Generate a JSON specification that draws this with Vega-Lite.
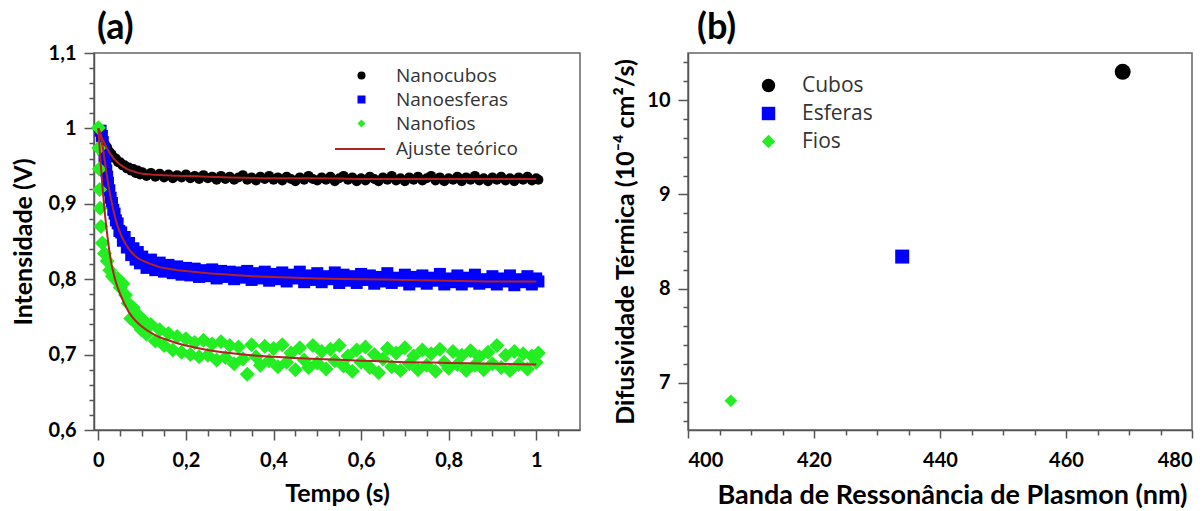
{
  "$schema": "https://vega.github.io/schema/vega-lite/v6.json",
  "background": "white",
  "padding": {"left": 10, "top": 9, "right": 5, "bottom": 0},
  "spacing": 32,
  "config": {
    "view": {"stroke": "#666", "strokeWidth": 1.5},
    "axis": {"labelFont": "Lato", "labelFontWeight": "bold", "labelFontSize": 20, "labelColor": "#000", "titleFont": "Lato", "titleFontWeight": "bold", "titleFontSize": 25, "titleColor": "#000", "domainColor": "#555", "domainWidth": 1.5, "tickColor": "#555", "tickWidth": 1.5, "grid": false},
    "title": {"font": "Lato", "fontWeight": "bold", "fontSize": 36, "color": "#000", "anchor": "start", "frame": "group"}
  },
  "resolve": {"scale": {"color": "independent", "shape": "independent", "stroke": "independent"}},
  "datasets": {
    "pa": [
      {"s":"Nanocubos","t":0,"v":0.999},{"s":"Nanocubos","t":0.005,"v":0.992},{"s":"Nanocubos","t":0.01,"v":0.986},{"s":"Nanocubos","t":0.015,"v":0.979},{"s":"Nanocubos","t":0.02,"v":0.975},{"s":"Nanocubos","t":0.025,"v":0.969},{"s":"Nanocubos","t":0.03,"v":0.966},{"s":"Nanocubos","t":0.035,"v":0.961},{"s":"Nanocubos","t":0.04,"v":0.96},{"s":"Nanocubos","t":0.045,"v":0.955},{"s":"Nanocubos","t":0.05,"v":0.955},{"s":"Nanocubos","t":0.055,"v":0.951},{"s":"Nanocubos","t":0.06,"v":0.951},{"s":"Nanocubos","t":0.065,"v":0.947},{"s":"Nanocubos","t":0.07,"v":0.948},{"s":"Nanocubos","t":0.075,"v":0.944},{"s":"Nanocubos","t":0.08,"v":0.946},{"s":"Nanocubos","t":0.085,"v":0.941},{"s":"Nanocubos","t":0.09,"v":0.944},{"s":"Nanocubos","t":0.095,"v":0.939},{"s":"Nanocubos","t":0.1,"v":0.942},
      {"s":"Nanocubos","t":0.11,"v":0.937},{"s":"Nanocubos","t":0.12,"v":0.941},{"s":"Nanocubos","t":0.13,"v":0.936},{"s":"Nanocubos","t":0.14,"v":0.94},{"s":"Nanocubos","t":0.15,"v":0.935},{"s":"Nanocubos","t":0.16,"v":0.939},{"s":"Nanocubos","t":0.17,"v":0.934},{"s":"Nanocubos","t":0.18,"v":0.938},{"s":"Nanocubos","t":0.19,"v":0.935},{"s":"Nanocubos","t":0.2,"v":0.939},
      {"s":"Nanocubos","t":0.21,"v":0.934},{"s":"Nanocubos","t":0.22,"v":0.937},{"s":"Nanocubos","t":0.23,"v":0.933},{"s":"Nanocubos","t":0.24,"v":0.938},{"s":"Nanocubos","t":0.25,"v":0.934},{"s":"Nanocubos","t":0.26,"v":0.936},{"s":"Nanocubos","t":0.27,"v":0.932},{"s":"Nanocubos","t":0.28,"v":0.937},{"s":"Nanocubos","t":0.29,"v":0.933},{"s":"Nanocubos","t":0.3,"v":0.936},
      {"s":"Nanocubos","t":0.31,"v":0.932},{"s":"Nanocubos","t":0.32,"v":0.935},{"s":"Nanocubos","t":0.33,"v":0.938},{"s":"Nanocubos","t":0.34,"v":0.932},{"s":"Nanocubos","t":0.35,"v":0.935},{"s":"Nanocubos","t":0.36,"v":0.931},{"s":"Nanocubos","t":0.37,"v":0.936},{"s":"Nanocubos","t":0.38,"v":0.933},{"s":"Nanocubos","t":0.39,"v":0.937},{"s":"Nanocubos","t":0.4,"v":0.932},
      {"s":"Nanocubos","t":0.41,"v":0.935},{"s":"Nanocubos","t":0.42,"v":0.931},{"s":"Nanocubos","t":0.43,"v":0.936},{"s":"Nanocubos","t":0.44,"v":0.933},{"s":"Nanocubos","t":0.45,"v":0.93},{"s":"Nanocubos","t":0.46,"v":0.935},{"s":"Nanocubos","t":0.47,"v":0.932},{"s":"Nanocubos","t":0.48,"v":0.937},{"s":"Nanocubos","t":0.49,"v":0.933},{"s":"Nanocubos","t":0.5,"v":0.931},
      {"s":"Nanocubos","t":0.51,"v":0.935},{"s":"Nanocubos","t":0.52,"v":0.932},{"s":"Nanocubos","t":0.53,"v":0.936},{"s":"Nanocubos","t":0.54,"v":0.93},{"s":"Nanocubos","t":0.55,"v":0.934},{"s":"Nanocubos","t":0.56,"v":0.937},{"s":"Nanocubos","t":0.57,"v":0.932},{"s":"Nanocubos","t":0.58,"v":0.935},{"s":"Nanocubos","t":0.59,"v":0.93},{"s":"Nanocubos","t":0.6,"v":0.934},
      {"s":"Nanocubos","t":0.61,"v":0.931},{"s":"Nanocubos","t":0.62,"v":0.936},{"s":"Nanocubos","t":0.63,"v":0.933},{"s":"Nanocubos","t":0.64,"v":0.93},{"s":"Nanocubos","t":0.65,"v":0.935},{"s":"Nanocubos","t":0.66,"v":0.932},{"s":"Nanocubos","t":0.67,"v":0.937},{"s":"Nanocubos","t":0.68,"v":0.931},{"s":"Nanocubos","t":0.69,"v":0.934},{"s":"Nanocubos","t":0.7,"v":0.93},
      {"s":"Nanocubos","t":0.71,"v":0.935},{"s":"Nanocubos","t":0.72,"v":0.932},{"s":"Nanocubos","t":0.73,"v":0.936},{"s":"Nanocubos","t":0.74,"v":0.931},{"s":"Nanocubos","t":0.75,"v":0.934},{"s":"Nanocubos","t":0.76,"v":0.937},{"s":"Nanocubos","t":0.77,"v":0.931},{"s":"Nanocubos","t":0.78,"v":0.935},{"s":"Nanocubos","t":0.79,"v":0.93},{"s":"Nanocubos","t":0.8,"v":0.934},
      {"s":"Nanocubos","t":0.81,"v":0.932},{"s":"Nanocubos","t":0.82,"v":0.936},{"s":"Nanocubos","t":0.83,"v":0.93},{"s":"Nanocubos","t":0.84,"v":0.935},{"s":"Nanocubos","t":0.85,"v":0.932},{"s":"Nanocubos","t":0.86,"v":0.937},{"s":"Nanocubos","t":0.87,"v":0.931},{"s":"Nanocubos","t":0.88,"v":0.934},{"s":"Nanocubos","t":0.89,"v":0.93},{"s":"Nanocubos","t":0.9,"v":0.935},
      {"s":"Nanocubos","t":0.91,"v":0.932},{"s":"Nanocubos","t":0.92,"v":0.936},{"s":"Nanocubos","t":0.93,"v":0.931},{"s":"Nanocubos","t":0.94,"v":0.934},{"s":"Nanocubos","t":0.95,"v":0.93},{"s":"Nanocubos","t":0.96,"v":0.935},{"s":"Nanocubos","t":0.97,"v":0.932},{"s":"Nanocubos","t":0.98,"v":0.936},{"s":"Nanocubos","t":0.99,"v":0.931},{"s":"Nanocubos","t":1.0,"v":0.934},{"s":"Nanocubos","t":1.005,"v":0.932},

      {"s":"Nanoesferas","t":0.005,"v":0.997},{"s":"Nanoesferas","t":0.008,"v":0.99},{"s":"Nanoesferas","t":0.01,"v":0.982},{"s":"Nanoesferas","t":0.012,"v":0.972},{"s":"Nanoesferas","t":0.014,"v":0.963},{"s":"Nanoesferas","t":0.016,"v":0.953},{"s":"Nanoesferas","t":0.018,"v":0.944},{"s":"Nanoesferas","t":0.02,"v":0.936},{"s":"Nanoesferas","t":0.022,"v":0.928},{"s":"Nanoesferas","t":0.025,"v":0.918},{"s":"Nanoesferas","t":0.028,"v":0.908},{"s":"Nanoesferas","t":0.031,"v":0.901},{"s":"Nanoesferas","t":0.034,"v":0.892},{"s":"Nanoesferas","t":0.037,"v":0.887},{"s":"Nanoesferas","t":0.04,"v":0.878},{"s":"Nanoesferas","t":0.044,"v":0.874},{"s":"Nanoesferas","t":0.048,"v":0.864},{"s":"Nanoesferas","t":0.052,"v":0.862},{"s":"Nanoesferas","t":0.056,"v":0.851},{"s":"Nanoesferas","t":0.06,"v":0.856},{"s":"Nanoesferas","t":0.065,"v":0.842},{"s":"Nanoesferas","t":0.07,"v":0.848},{"s":"Nanoesferas","t":0.075,"v":0.832},{"s":"Nanoesferas","t":0.08,"v":0.841},{"s":"Nanoesferas","t":0.085,"v":0.826},{"s":"Nanoesferas","t":0.09,"v":0.836},{"s":"Nanoesferas","t":0.095,"v":0.821},
      {"s":"Nanoesferas","t":0.1,"v":0.83},{"s":"Nanoesferas","t":0.11,"v":0.815},{"s":"Nanoesferas","t":0.12,"v":0.826},{"s":"Nanoesferas","t":0.13,"v":0.812},{"s":"Nanoesferas","t":0.14,"v":0.822},{"s":"Nanoesferas","t":0.15,"v":0.81},{"s":"Nanoesferas","t":0.16,"v":0.819},{"s":"Nanoesferas","t":0.17,"v":0.808},{"s":"Nanoesferas","t":0.18,"v":0.817},{"s":"Nanoesferas","t":0.19,"v":0.806},{"s":"Nanoesferas","t":0.2,"v":0.815},
      {"s":"Nanoesferas","t":0.21,"v":0.805},{"s":"Nanoesferas","t":0.22,"v":0.814},{"s":"Nanoesferas","t":0.23,"v":0.803},{"s":"Nanoesferas","t":0.24,"v":0.812},{"s":"Nanoesferas","t":0.25,"v":0.804},{"s":"Nanoesferas","t":0.26,"v":0.813},{"s":"Nanoesferas","t":0.27,"v":0.801},{"s":"Nanoesferas","t":0.28,"v":0.811},{"s":"Nanoesferas","t":0.29,"v":0.803},{"s":"Nanoesferas","t":0.3,"v":0.81},
      {"s":"Nanoesferas","t":0.31,"v":0.8},{"s":"Nanoesferas","t":0.32,"v":0.809},{"s":"Nanoesferas","t":0.33,"v":0.802},{"s":"Nanoesferas","t":0.34,"v":0.811},{"s":"Nanoesferas","t":0.35,"v":0.799},{"s":"Nanoesferas","t":0.36,"v":0.808},{"s":"Nanoesferas","t":0.37,"v":0.801},{"s":"Nanoesferas","t":0.38,"v":0.81},{"s":"Nanoesferas","t":0.39,"v":0.798},{"s":"Nanoesferas","t":0.4,"v":0.807},
      {"s":"Nanoesferas","t":0.41,"v":0.8},{"s":"Nanoesferas","t":0.42,"v":0.809},{"s":"Nanoesferas","t":0.43,"v":0.797},{"s":"Nanoesferas","t":0.44,"v":0.806},{"s":"Nanoesferas","t":0.45,"v":0.801},{"s":"Nanoesferas","t":0.46,"v":0.81},{"s":"Nanoesferas","t":0.47,"v":0.796},{"s":"Nanoesferas","t":0.48,"v":0.805},{"s":"Nanoesferas","t":0.49,"v":0.799},{"s":"Nanoesferas","t":0.5,"v":0.808},
      {"s":"Nanoesferas","t":0.51,"v":0.796},{"s":"Nanoesferas","t":0.52,"v":0.804},{"s":"Nanoesferas","t":0.53,"v":0.8},{"s":"Nanoesferas","t":0.54,"v":0.809},{"s":"Nanoesferas","t":0.55,"v":0.795},{"s":"Nanoesferas","t":0.56,"v":0.806},{"s":"Nanoesferas","t":0.57,"v":0.798},{"s":"Nanoesferas","t":0.58,"v":0.804},{"s":"Nanoesferas","t":0.59,"v":0.795},{"s":"Nanoesferas","t":0.6,"v":0.807},
      {"s":"Nanoesferas","t":0.61,"v":0.799},{"s":"Nanoesferas","t":0.62,"v":0.805},{"s":"Nanoesferas","t":0.63,"v":0.794},{"s":"Nanoesferas","t":0.64,"v":0.803},{"s":"Nanoesferas","t":0.65,"v":0.797},{"s":"Nanoesferas","t":0.66,"v":0.808},{"s":"Nanoesferas","t":0.67,"v":0.795},{"s":"Nanoesferas","t":0.68,"v":0.802},{"s":"Nanoesferas","t":0.69,"v":0.798},{"s":"Nanoesferas","t":0.7,"v":0.806},
      {"s":"Nanoesferas","t":0.71,"v":0.793},{"s":"Nanoesferas","t":0.72,"v":0.803},{"s":"Nanoesferas","t":0.73,"v":0.797},{"s":"Nanoesferas","t":0.74,"v":0.805},{"s":"Nanoesferas","t":0.75,"v":0.794},{"s":"Nanoesferas","t":0.76,"v":0.802},{"s":"Nanoesferas","t":0.77,"v":0.798},{"s":"Nanoesferas","t":0.78,"v":0.807},{"s":"Nanoesferas","t":0.79,"v":0.793},{"s":"Nanoesferas","t":0.8,"v":0.801},
      {"s":"Nanoesferas","t":0.81,"v":0.796},{"s":"Nanoesferas","t":0.82,"v":0.805},{"s":"Nanoesferas","t":0.83,"v":0.793},{"s":"Nanoesferas","t":0.84,"v":0.802},{"s":"Nanoesferas","t":0.85,"v":0.797},{"s":"Nanoesferas","t":0.86,"v":0.806},{"s":"Nanoesferas","t":0.87,"v":0.794},{"s":"Nanoesferas","t":0.88,"v":0.8},{"s":"Nanoesferas","t":0.89,"v":0.796},{"s":"Nanoesferas","t":0.9,"v":0.804},
      {"s":"Nanoesferas","t":0.91,"v":0.793},{"s":"Nanoesferas","t":0.92,"v":0.801},{"s":"Nanoesferas","t":0.93,"v":0.797},{"s":"Nanoesferas","t":0.94,"v":0.805},{"s":"Nanoesferas","t":0.95,"v":0.792},{"s":"Nanoesferas","t":0.96,"v":0.8},{"s":"Nanoesferas","t":0.97,"v":0.796},{"s":"Nanoesferas","t":0.98,"v":0.804},{"s":"Nanoesferas","t":0.99,"v":0.793},{"s":"Nanoesferas","t":1.0,"v":0.801},{"s":"Nanoesferas","t":1.005,"v":0.797},

      {"s":"Nanofios","t":0,"v":1.001},{"s":"Nanofios","t":0.001,"v":0.974},{"s":"Nanofios","t":0.002,"v":0.946},{"s":"Nanofios","t":0.003,"v":0.919},{"s":"Nanofios","t":0.004,"v":0.894},{"s":"Nanofios","t":0.006,"v":0.87},{"s":"Nanofios","t":0.009,"v":0.848},{"s":"Nanofios","t":0.014,"v":0.834},{"s":"Nanofios","t":0.02,"v":0.824},{"s":"Nanofios","t":0.026,"v":0.812},{"s":"Nanofios","t":0.032,"v":0.804},{"s":"Nanofios","t":0.038,"v":0.8},{"s":"Nanofios","t":0.044,"v":0.801},{"s":"Nanofios","t":0.05,"v":0.789},{"s":"Nanofios","t":0.056,"v":0.794},{"s":"Nanofios","t":0.062,"v":0.779},{"s":"Nanofios","t":0.068,"v":0.768},{"s":"Nanofios","t":0.074,"v":0.748},{"s":"Nanofios","t":0.08,"v":0.762},{"s":"Nanofios","t":0.086,"v":0.742},{"s":"Nanofios","t":0.092,"v":0.752},{"s":"Nanofios","t":0.098,"v":0.733},{"s":"Nanofios","t":0.104,"v":0.745},
      {"s":"Nanofios","t":0.11,"v":0.727},{"s":"Nanofios","t":0.12,"v":0.74},{"s":"Nanofios","t":0.13,"v":0.718},{"s":"Nanofios","t":0.14,"v":0.733},{"s":"Nanofios","t":0.15,"v":0.712},{"s":"Nanofios","t":0.16,"v":0.728},{"s":"Nanofios","t":0.17,"v":0.706},{"s":"Nanofios","t":0.18,"v":0.724},{"s":"Nanofios","t":0.19,"v":0.703},{"s":"Nanofios","t":0.2,"v":0.721},
      {"s":"Nanofios","t":0.21,"v":0.7},{"s":"Nanofios","t":0.22,"v":0.716},{"s":"Nanofios","t":0.23,"v":0.697},{"s":"Nanofios","t":0.24,"v":0.719},{"s":"Nanofios","t":0.25,"v":0.699},{"s":"Nanofios","t":0.26,"v":0.714},{"s":"Nanofios","t":0.27,"v":0.693},{"s":"Nanofios","t":0.28,"v":0.717},{"s":"Nanofios","t":0.29,"v":0.696},{"s":"Nanofios","t":0.3,"v":0.712},
      {"s":"Nanofios","t":0.31,"v":0.688},{"s":"Nanofios","t":0.32,"v":0.71},{"s":"Nanofios","t":0.33,"v":0.694},{"s":"Nanofios","t":0.34,"v":0.674},{"s":"Nanofios","t":0.35,"v":0.713},{"s":"Nanofios","t":0.36,"v":0.697},{"s":"Nanofios","t":0.37,"v":0.686},{"s":"Nanofios","t":0.38,"v":0.711},{"s":"Nanofios","t":0.39,"v":0.692},{"s":"Nanofios","t":0.4,"v":0.708},
      {"s":"Nanofios","t":0.41,"v":0.684},{"s":"Nanofios","t":0.42,"v":0.713},{"s":"Nanofios","t":0.43,"v":0.69},{"s":"Nanofios","t":0.44,"v":0.702},{"s":"Nanofios","t":0.45,"v":0.68},{"s":"Nanofios","t":0.46,"v":0.709},{"s":"Nanofios","t":0.47,"v":0.693},{"s":"Nanofios","t":0.48,"v":0.683},{"s":"Nanofios","t":0.49,"v":0.712},{"s":"Nanofios","t":0.5,"v":0.689},
      {"s":"Nanofios","t":0.51,"v":0.704},{"s":"Nanofios","t":0.52,"v":0.681},{"s":"Nanofios","t":0.53,"v":0.707},{"s":"Nanofios","t":0.54,"v":0.692},{"s":"Nanofios","t":0.55,"v":0.712},{"s":"Nanofios","t":0.56,"v":0.685},{"s":"Nanofios","t":0.57,"v":0.698},{"s":"Nanofios","t":0.58,"v":0.678},{"s":"Nanofios","t":0.59,"v":0.706},{"s":"Nanofios","t":0.6,"v":0.69},
      {"s":"Nanofios","t":0.61,"v":0.71},{"s":"Nanofios","t":0.62,"v":0.683},{"s":"Nanofios","t":0.63,"v":0.7},{"s":"Nanofios","t":0.64,"v":0.676},{"s":"Nanofios","t":0.65,"v":0.694},{"s":"Nanofios","t":0.66,"v":0.708},{"s":"Nanofios","t":0.67,"v":0.684},{"s":"Nanofios","t":0.68,"v":0.702},{"s":"Nanofios","t":0.69,"v":0.679},{"s":"Nanofios","t":0.7,"v":0.709},
      {"s":"Nanofios","t":0.71,"v":0.688},{"s":"Nanofios","t":0.72,"v":0.698},{"s":"Nanofios","t":0.73,"v":0.68},{"s":"Nanofios","t":0.74,"v":0.706},{"s":"Nanofios","t":0.75,"v":0.686},{"s":"Nanofios","t":0.76,"v":0.701},{"s":"Nanofios","t":0.77,"v":0.678},{"s":"Nanofios","t":0.78,"v":0.707},{"s":"Nanofios","t":0.79,"v":0.69},{"s":"Nanofios","t":0.8,"v":0.682},
      {"s":"Nanofios","t":0.81,"v":0.704},{"s":"Nanofios","t":0.82,"v":0.687},{"s":"Nanofios","t":0.83,"v":0.699},{"s":"Nanofios","t":0.84,"v":0.679},{"s":"Nanofios","t":0.85,"v":0.705},{"s":"Nanofios","t":0.86,"v":0.686},{"s":"Nanofios","t":0.87,"v":0.697},{"s":"Nanofios","t":0.88,"v":0.68},{"s":"Nanofios","t":0.89,"v":0.703},{"s":"Nanofios","t":0.9,"v":0.688},
      {"s":"Nanofios","t":0.91,"v":0.712},{"s":"Nanofios","t":0.92,"v":0.683},{"s":"Nanofios","t":0.93,"v":0.699},{"s":"Nanofios","t":0.94,"v":0.679},{"s":"Nanofios","t":0.95,"v":0.704},{"s":"Nanofios","t":0.96,"v":0.687},{"s":"Nanofios","t":0.97,"v":0.701},{"s":"Nanofios","t":0.98,"v":0.681},{"s":"Nanofios","t":0.99,"v":0.698},{"s":"Nanofios","t":1.0,"v":0.69},{"s":"Nanofios","t":1.005,"v":0.702}
    ],
    "fa": [
      {"s":"Ajuste teórico","g":"c","t":0,"v":1.0},{"s":"Ajuste teórico","g":"c","t":0.005,"v":0.992},{"s":"Ajuste teórico","g":"c","t":0.01,"v":0.985},{"s":"Ajuste teórico","g":"c","t":0.015,"v":0.979},{"s":"Ajuste teórico","g":"c","t":0.02,"v":0.973},{"s":"Ajuste teórico","g":"c","t":0.03,"v":0.964},{"s":"Ajuste teórico","g":"c","t":0.04,"v":0.957},{"s":"Ajuste teórico","g":"c","t":0.05,"v":0.952},{"s":"Ajuste teórico","g":"c","t":0.06,"v":0.948},{"s":"Ajuste teórico","g":"c","t":0.07,"v":0.945},{"s":"Ajuste teórico","g":"c","t":0.08,"v":0.943},{"s":"Ajuste teórico","g":"c","t":0.09,"v":0.941},{"s":"Ajuste teórico","g":"c","t":0.1,"v":0.94},{"s":"Ajuste teórico","g":"c","t":0.12,"v":0.939},{"s":"Ajuste teórico","g":"c","t":0.15,"v":0.938},{"s":"Ajuste teórico","g":"c","t":0.2,"v":0.937},{"s":"Ajuste teórico","g":"c","t":0.25,"v":0.936},{"s":"Ajuste teórico","g":"c","t":0.3,"v":0.935},{"s":"Ajuste teórico","g":"c","t":0.4,"v":0.934},{"s":"Ajuste teórico","g":"c","t":0.5,"v":0.934},{"s":"Ajuste teórico","g":"c","t":0.6,"v":0.933},{"s":"Ajuste teórico","g":"c","t":0.8,"v":0.933},{"s":"Ajuste teórico","g":"c","t":1.0,"v":0.933},
      {"s":"Ajuste teórico","g":"e","t":0,"v":1.0},{"s":"Ajuste teórico","g":"e","t":0.005,"v":0.99},{"s":"Ajuste teórico","g":"e","t":0.01,"v":0.975},{"s":"Ajuste teórico","g":"e","t":0.015,"v":0.955},{"s":"Ajuste teórico","g":"e","t":0.02,"v":0.935},{"s":"Ajuste teórico","g":"e","t":0.025,"v":0.918},{"s":"Ajuste teórico","g":"e","t":0.03,"v":0.903},{"s":"Ajuste teórico","g":"e","t":0.04,"v":0.878},{"s":"Ajuste teórico","g":"e","t":0.05,"v":0.861},{"s":"Ajuste teórico","g":"e","t":0.06,"v":0.849},{"s":"Ajuste teórico","g":"e","t":0.07,"v":0.84},{"s":"Ajuste teórico","g":"e","t":0.08,"v":0.833},{"s":"Ajuste teórico","g":"e","t":0.09,"v":0.828},{"s":"Ajuste teórico","g":"e","t":0.1,"v":0.825},{"s":"Ajuste teórico","g":"e","t":0.12,"v":0.82},{"s":"Ajuste teórico","g":"e","t":0.14,"v":0.816},{"s":"Ajuste teórico","g":"e","t":0.16,"v":0.814},{"s":"Ajuste teórico","g":"e","t":0.18,"v":0.812},{"s":"Ajuste teórico","g":"e","t":0.2,"v":0.811},{"s":"Ajuste teórico","g":"e","t":0.25,"v":0.808},{"s":"Ajuste teórico","g":"e","t":0.3,"v":0.806},{"s":"Ajuste teórico","g":"e","t":0.35,"v":0.804},{"s":"Ajuste teórico","g":"e","t":0.4,"v":0.803},{"s":"Ajuste teórico","g":"e","t":0.5,"v":0.801},{"s":"Ajuste teórico","g":"e","t":0.6,"v":0.8},{"s":"Ajuste teórico","g":"e","t":0.7,"v":0.799},{"s":"Ajuste teórico","g":"e","t":0.8,"v":0.798},{"s":"Ajuste teórico","g":"e","t":0.9,"v":0.797},{"s":"Ajuste teórico","g":"e","t":1.0,"v":0.797},
      {"s":"Ajuste teórico","g":"f","t":0,"v":1.0},{"s":"Ajuste teórico","g":"f","t":0.005,"v":0.955},{"s":"Ajuste teórico","g":"f","t":0.01,"v":0.918},{"s":"Ajuste teórico","g":"f","t":0.015,"v":0.886},{"s":"Ajuste teórico","g":"f","t":0.02,"v":0.86},{"s":"Ajuste teórico","g":"f","t":0.025,"v":0.838},{"s":"Ajuste teórico","g":"f","t":0.03,"v":0.82},{"s":"Ajuste teórico","g":"f","t":0.035,"v":0.807},{"s":"Ajuste teórico","g":"f","t":0.04,"v":0.796},{"s":"Ajuste teórico","g":"f","t":0.05,"v":0.78},{"s":"Ajuste teórico","g":"f","t":0.06,"v":0.767},{"s":"Ajuste teórico","g":"f","t":0.07,"v":0.756},{"s":"Ajuste teórico","g":"f","t":0.08,"v":0.748},{"s":"Ajuste teórico","g":"f","t":0.09,"v":0.742},{"s":"Ajuste teórico","g":"f","t":0.1,"v":0.737},{"s":"Ajuste teórico","g":"f","t":0.12,"v":0.729},{"s":"Ajuste teórico","g":"f","t":0.14,"v":0.723},{"s":"Ajuste teórico","g":"f","t":0.16,"v":0.719},{"s":"Ajuste teórico","g":"f","t":0.18,"v":0.715},{"s":"Ajuste teórico","g":"f","t":0.2,"v":0.712},{"s":"Ajuste teórico","g":"f","t":0.25,"v":0.706},{"s":"Ajuste teórico","g":"f","t":0.3,"v":0.702},{"s":"Ajuste teórico","g":"f","t":0.35,"v":0.699},{"s":"Ajuste teórico","g":"f","t":0.4,"v":0.697},{"s":"Ajuste teórico","g":"f","t":0.5,"v":0.694},{"s":"Ajuste teórico","g":"f","t":0.6,"v":0.692},{"s":"Ajuste teórico","g":"f","t":0.7,"v":0.69},{"s":"Ajuste teórico","g":"f","t":0.8,"v":0.689},{"s":"Ajuste teórico","g":"f","t":0.9,"v":0.688},{"s":"Ajuste teórico","g":"f","t":1.0,"v":0.687}
    ],
    "pb": [
      {"s":"Cubos","x":469.0,"y":10.3},
      {"s":"Esferas","x":434.0,"y":8.34},
      {"s":"Fios","x":406.8,"y":6.81}
    ]
  },
  "hconcat": [
    {
      "width": 486,
      "height": 377,
      "title": {"text": "(a)", "offset": -4, "dx": 3},
      "layer": [
        {
          "data": {"name": "pa"},
          "transform": [{"filter": {"field": "s", "equal": "Nanocubos"}}],
          "mark": {"type": "point", "filled": true, "opacity": 1, "size": 100},
          "encoding": {
            "x": {"field": "t", "type": "quantitative", "scale": {"domain": [-0.01, 1.1], "nice": false, "zero": false},
              "axis": {"values": [0, 0.2, 0.4, 0.6, 0.8, 1], "labelExpr": "replace(format(datum.value, '~g'), '.', ',')", "tickSize": 10, "labelPadding": 10, "title": "Tempo (s)", "titlePadding": 11}},
            "y": {"field": "v", "type": "quantitative", "scale": {"domain": [0.6, 1.1], "nice": false, "zero": false},
              "axis": {"values": [0.6, 0.7, 0.8, 0.9, 1, 1.1], "labelExpr": "replace(format(datum.value, '~g'), '.', ',')", "tickSize": 10, "labelPadding": 8, "title": "Intensidade (V)", "titlePadding": 12}},
            "color": {"field": "s", "type": "nominal", "scale": {"domain": ["Nanocubos", "Nanoesferas", "Nanofios"], "range": ["#000000", "#0000ff", "#22ee22"]},
              "legend": {"orient": "none", "legendX": 258, "legendY": 13, "title": null, "symbolSize": 64, "labelOffset": 25, "rowPadding": 4, "labelFont": "Open Sans", "labelFontSize": 19, "labelColor": "#333"}},
            "shape": {"field": "s", "type": "nominal", "scale": {"domain": ["Nanocubos", "Nanoesferas", "Nanofios"], "range": ["circle", "square", "diamond"]},
              "legend": {"orient": "none", "legendX": 258, "legendY": 13, "title": null, "symbolSize": 64, "labelOffset": 25, "rowPadding": 4, "labelFont": "Open Sans", "labelFontSize": 19, "labelColor": "#333"}}
          }
        },
        {
          "data": {"name": "pa"},
          "transform": [{"filter": {"field": "s", "equal": "Nanoesferas"}}],
          "mark": {"type": "point", "filled": true, "opacity": 1, "size": 144},
          "encoding": {
            "x": {"field": "t", "type": "quantitative", "axis": null},
            "y": {"field": "v", "type": "quantitative", "axis": null},
            "color": {"field": "s", "type": "nominal"},
            "shape": {"field": "s", "type": "nominal"}
          }
        },
        {
          "data": {"name": "pa"},
          "transform": [{"filter": {"field": "s", "equal": "Nanofios"}}],
          "mark": {"type": "point", "filled": true, "opacity": 1, "size": 225},
          "encoding": {
            "x": {"field": "t", "type": "quantitative", "axis": null},
            "y": {"field": "v", "type": "quantitative", "axis": null},
            "color": {"field": "s", "type": "nominal"},
            "shape": {"field": "s", "type": "nominal"}
          }
        },
        {
          "data": {"name": "fa"},
          "mark": {"type": "line", "strokeWidth": 2, "interpolate": "monotone"},
          "encoding": {
            "x": {"field": "t", "type": "quantitative",
              "axis": {"orient": "bottom", "values": [0.05, 0.1, 0.15, 0.25, 0.3, 0.35, 0.45, 0.5, 0.55, 0.65, 0.7, 0.75, 0.85, 0.9, 0.95, 1.05], "labels": false, "domain": false, "tickSize": 6, "title": null}},
            "y": {"field": "v", "type": "quantitative",
              "axis": {"orient": "left", "values": [0.62, 0.64, 0.66, 0.68, 0.72, 0.74, 0.76, 0.78, 0.82, 0.84, 0.86, 0.88, 0.92, 0.94, 0.96, 0.98, 1.02, 1.04, 1.06, 1.08], "labels": false, "domain": false, "tickSize": 5, "title": null}},
            "detail": {"field": "g", "type": "nominal"},
            "stroke": {"field": "s", "type": "nominal", "scale": {"domain": ["Ajuste teórico"], "range": ["#b22222"]},
              "legend": {"orient": "none", "legendX": 240, "legendY": 70, "title": null, "symbolType": "stroke", "symbolSize": 2500, "symbolStrokeWidth": 2, "labelOffset": 10, "labelFont": "Open Sans", "labelFontSize": 19, "labelColor": "#333"}}
          }
        }
      ],
      "resolve": {"axis": {"x": "independent", "y": "independent"}}
    },
    {
      "width": 504,
      "height": 377,
      "title": {"text": "(b)", "offset": 6, "dx": 9},
      "layer": [
        {
          "data": {"name": "pb"},
          "transform": [{"filter": {"field": "s", "equal": "Cubos"}}],
          "mark": {"type": "point", "filled": true, "opacity": 1, "size": 256},
          "encoding": {
            "x": {"field": "x", "type": "quantitative", "scale": {"domain": [400, 480], "nice": false, "zero": false},
              "axis": {"values": [400, 420, 440, 460, 480], "tickSize": 8, "labelPadding": 12, "title": "Banda de Ressonância de Plasmon (nm)", "titlePadding": 12, "titleFontSize": 27, "titleX": 264}},
            "y": {"field": "y", "type": "quantitative", "scale": {"domain": [6.5, 10.5], "nice": false, "zero": false},
              "axis": {"values": [7, 8, 9, 10], "tickSize": 10, "labelPadding": 8, "title": "Difusividade Térmica (10⁻⁴ cm²/s)", "titlePadding": 8}},
            "color": {"field": "s", "type": "nominal", "scale": {"domain": ["Cubos", "Esferas", "Fios"], "range": ["#000000", "#0000ff", "#22ee22"]},
              "legend": {"orient": "none", "legendX": 70, "legendY": 22, "title": null, "symbolSize": 180, "labelOffset": 23, "rowPadding": 6, "labelFont": "Open Sans", "labelFontSize": 21, "labelColor": "#333"}},
            "shape": {"field": "s", "type": "nominal", "scale": {"domain": ["Cubos", "Esferas", "Fios"], "range": ["circle", "square", "diamond"]},
              "legend": {"orient": "none", "legendX": 70, "legendY": 22, "title": null, "symbolSize": 180, "labelOffset": 23, "rowPadding": 6, "labelFont": "Open Sans", "labelFontSize": 21, "labelColor": "#333"}}
          }
        },
        {
          "data": {"name": "pb"},
          "transform": [{"filter": {"field": "s", "equal": "Esferas"}}],
          "mark": {"type": "point", "filled": true, "opacity": 1, "size": 196},
          "encoding": {
            "x": {"field": "x", "type": "quantitative", "axis": null},
            "y": {"field": "y", "type": "quantitative", "axis": null},
            "color": {"field": "s", "type": "nominal"},
            "shape": {"field": "s", "type": "nominal"}
          }
        },
        {
          "data": {"name": "pb"},
          "transform": [{"filter": {"field": "s", "equal": "Fios"}}],
          "mark": {"type": "point", "filled": true, "opacity": 1, "size": 160},
          "encoding": {
            "x": {"field": "x", "type": "quantitative",
              "axis": {"orient": "bottom", "values": [405, 410, 415, 425, 430, 435, 445, 450, 455, 465, 470, 475], "labels": false, "domain": false, "tickSize": 5, "title": null}},
            "y": {"field": "y", "type": "quantitative",
              "axis": {"orient": "left", "values": [6.6, 6.8, 7.2, 7.4, 7.6, 7.8, 8.2, 8.4, 8.6, 8.8, 9.2, 9.4, 9.6, 9.8, 10.2, 10.4], "labels": false, "domain": false, "tickSize": 5, "title": null}},
            "color": {"field": "s", "type": "nominal"},
            "shape": {"field": "s", "type": "nominal"}
          }
        }
      ],
      "resolve": {"axis": {"x": "independent", "y": "independent"}}
    }
  ]
}
